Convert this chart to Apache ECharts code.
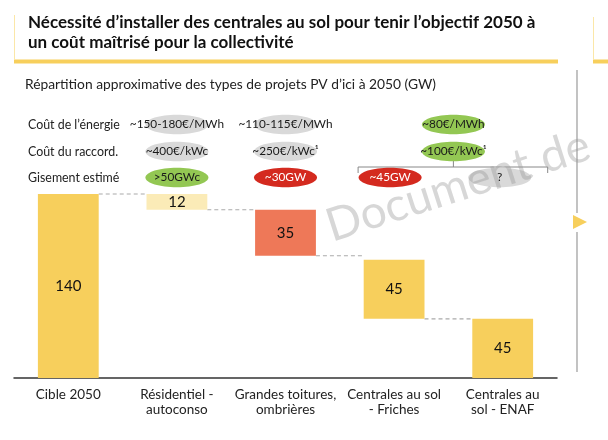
<!DOCTYPE html>
<html>
<head>
<meta charset="utf-8">
<script src="https://cdn.jsdelivr.net/npm/echarts@6/dist/echarts.min.js"></script>
<style>
html,body{margin:0;padding:0;background:#fff;}
#chart{width:608px;height:440px;}
</style>
</head>
<body>
<div id="chart"></div>
<script>
// ---- data ----
const categories = ['Cible 2050', 'Résidentiel -\nautoconso', 'Grandes toitures,\nombrières', 'Centrales au sol\n- Friches', 'Centrales au\nsol - ENAF'];
const values = [140, 12, 35, 45, 45];
const bases = [0, 128, 93, 45, 0];
const rowLabels = ['Coût de l\u2019énergie', 'Coût du raccord.', 'Gisement estimé'];
const energyCost = ['~150-180€/MWh', '~110-115€/MWh', '~80€/MWh'];
const connectionCost = ['~400€/kWc', '~250€/kWc\u00b9', '~100€/kWc\u00b9'];
const potential = ['>50GWc', '~30GW', '~45GW', '?'];
const titleText = 'Nécessité d\u2019installer des centrales au sol pour tenir l\u2019objectif 2050 à\nun coût maîtrisé pour la collectivité';
const subtitleText = 'Répartition approximative des types de projets PV d\u2019ici à 2050 (GW)';
const watermarkText = 'Document de';

// ---- styles ----
const FONT = 'Lato';
const YELLOW = '#F7CF5C';
const barColors = [YELLOW, '#FBEBB7', '#EE7858', YELLOW, YELLOW];
const GREY = '#D9D9D9', GREEN = '#93C753', RED = '#D42A1F';

const chart = echarts.init(document.getElementById('chart'), null, {renderer: 'canvas'});

const connectorLevels = values.slice(0, values.length - 1).map((v, i) => i === 0 ? bases[0] + v : bases[i]);

chart.setOption({
  animation: false,
  textStyle: {fontFamily: FONT},
  title: [
    {text: titleText, left: 23, top: 8, textStyle: {fontFamily: FONT, fontSize: 17, fontWeight: 'bold', color: '#111', lineHeight: 20}},
    {text: subtitleText, left: 20, top: 73, textStyle: {fontFamily: FONT, fontSize: 13.8, fontWeight: 'normal', color: '#222'}}
  ],
  grid: {left: 14, right: 51, top: 194, bottom: 62},
  xAxis: {
    type: 'category', data: categories,
    axisLine: {lineStyle: {color: '#333', width: 1.5}},
    axisTick: {show: false},
    axisLabel: {interval: 0, margin: 9, fontSize: 13.5, color: '#222', lineHeight: 15, fontFamily: FONT}
  },
  yAxis: {type: 'value', min: 0, max: 140, show: false},
  series: [
    {type: 'bar', stack: 'w', data: bases, barWidth: '56%', itemStyle: {color: 'transparent'}, silent: true},
    {type: 'bar', stack: 'w', barWidth: '56%',
      data: values.map((v, i) => ({value: v, itemStyle: {color: barColors[i]}})),
      label: {show: true, position: 'inside', color: '#111', fontSize: 15, fontFamily: FONT}
    },
    {type: 'custom', z: 1,
      data: connectorLevels.map((l, i) => [i, l]),
      renderItem: function (params, api) {
        const i = api.value(0), lvl = api.value(1);
        const p1 = api.coord([i, lvl]);
        const p2 = api.coord([i + 1, lvl]);
        const half = api.size([1, 0])[0] * 0.28;
        return {type: 'line', shape: {x1: p1[0] + half, y1: p1[1], x2: p2[0] - half, y2: p2[1]},
          style: {stroke: '#AAAAAA', lineWidth: 1.2, lineDash: [4, 3]}};
      }
    }
  ]
});

// ---- annotations placed relative to category centres ----
const cx = categories.map((c, i) => chart.convertToPixel({xAxisIndex: 0}, i));
const mid34 = (cx[3] + cx[4]) / 2 + 5;
const rowY = [124.5, 151.5, 177.5];
const RX = 31.5, RY = 9.8;
function pill(x, y, fill, text, textColor) {
  const g = [];
  if (fill) g.push({type: 'ellipse', shape: {cx: x, cy: y, rx: RX, ry: RY}, style: {fill: fill}, z: 5});
  g.push({type: 'text', x: x, y: y, z: 6, style: {text: text, fill: textColor || '#1a1a1a', font: '11.8px ' + FONT, align: 'center', verticalAlign: 'middle'}});
  return g;
}
let gr = [];
// decorative frame
gr.push({type: 'rect', shape: {x: 14, y: 59.5, width: 544, height: 4}, style: {fill: YELLOW}});
gr.push({type: 'rect', shape: {x: 14, y: 15, width: 1, height: 45}, style: {fill: '#FBE7A8'}});
gr.push({type: 'rect', shape: {x: 593, y: 59.5, width: 15, height: 4}, style: {fill: YELLOW}});
gr.push({type: 'rect', shape: {x: 593, y: 17, width: 1, height: 43}, style: {fill: '#FBE7A8'}});
gr.push({type: 'line', shape: {x1: 577, y1: 70, x2: 577, y2: 213}, style: {stroke: '#9A9A9A', lineWidth: 1.2}});
gr.push({type: 'line', shape: {x1: 577, y1: 232, x2: 577, y2: 372}, style: {stroke: '#9A9A9A', lineWidth: 1.2}});
gr.push({type: 'polygon', shape: {points: [[573, 215], [587, 222], [573, 229]]}, style: {fill: YELLOW}});
// row labels
rowLabels.forEach((t, r) => gr.push({type: 'text', x: 28, y: rowY[r], style: {text: t, fill: '#222', font: '12.4px ' + FONT, verticalAlign: 'middle'}}));
// row 1
gr = gr.concat(pill(cx[1], rowY[0], GREY, energyCost[0]));
gr = gr.concat(pill(cx[2], rowY[0], GREY, energyCost[1]));
gr = gr.concat(pill(mid34, rowY[0], GREEN, energyCost[2]));
// row 2
gr = gr.concat(pill(cx[1], rowY[1], GREY, connectionCost[0]));
gr = gr.concat(pill(cx[2], rowY[1], GREY, connectionCost[1]));
gr = gr.concat(pill(mid34, rowY[1], GREEN, connectionCost[2]));
// bracket
const bl = cx[3] - 36, br = cx[4] + 45;
gr.push({type: 'polyline', shape: {points: [[bl, 173], [bl, 167], [br, 167], [br, 173]]}, style: {stroke: '#888', lineWidth: 1, fill: null}});
gr.push({type: 'line', shape: {x1: mid34, y1: 167, x2: mid34, y2: 161}, style: {stroke: '#888', lineWidth: 1}});
// row 3
gr = gr.concat(pill(cx[1], rowY[2], GREEN, potential[0]));
gr = gr.concat(pill(cx[2], rowY[2], RED, potential[1], '#fff'));
gr = gr.concat(pill(cx[3] - 4, rowY[2], RED, potential[2], '#fff'));
gr = gr.concat(pill(cx[4] - 3, rowY[2], GREY, potential[3]));
// watermark
gr.push({type: 'text', x: 458, y: 186, rotation: 0.31, z: 20,
  style: {text: watermarkText, fill: 'rgba(150,150,150,0.38)', font: '46px ' + FONT, align: 'center', verticalAlign: 'middle'}});

chart.setOption({graphic: gr});
</script>
</body>
</html>
